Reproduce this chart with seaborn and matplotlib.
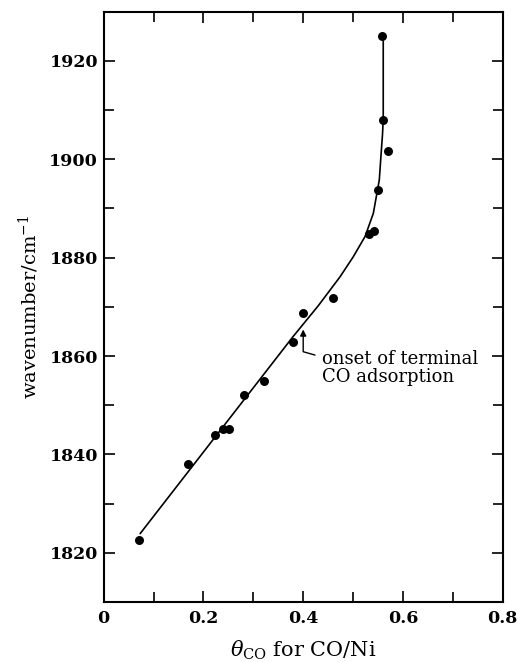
import matplotlib
matplotlib.use("Agg")
import matplotlib.pyplot as plt
import seaborn as sns
import pandas as pd
from matplotlib.ticker import MultipleLocator

# measured points
theta = [0.071, 0.170, 0.223, 0.240, 0.251, 0.281, 0.322, 0.380, 0.400, 0.459,
         0.531, 0.541, 0.549, 0.571, 0.561, 0.558]
wavenumber = [1822.7, 1838.0, 1843.9, 1845.1, 1845.1, 1852.1, 1854.9, 1862.9, 1868.8, 1871.8,
              1884.8, 1885.5, 1893.7, 1901.6, 1907.9, 1925.1]

# guide curve
curve_theta = [0.073, 0.38, 0.43, 0.4738, 0.5005, 0.524, 0.5406,
               0.5526, 0.5565, 0.5590, 0.5605, 0.5605]
curve_wn = [1823.9, 1864.0, 1870.2, 1876.1, 1880.2, 1884.3, 1889.0,
            1895.8, 1901.5, 1905.0, 1908.0, 1924.0]

x_ticks = [0, 0.2, 0.4, 0.6, 0.8]
x_ticklabels = ["0", "0.2", "0.4", "0.6", "0.8"]
y_ticks = [1820, 1840, 1860, 1880, 1900, 1920]

annotation = "onset of terminal\nCO adsorption"

sns.set_theme(style="ticks")
plt.rcParams['font.family'] = ['DejaVu Serif']
plt.rcParams['mathtext.fontset'] = 'dejavuserif'

fig = plt.figure(figsize=(5.17, 6.62), dpi=100)
ax = fig.add_axes([0.2006, 0.0906, 0.9723 - 0.2006, 0.9823 - 0.0906])

df_pts = pd.DataFrame({"theta": theta, "wn": wavenumber})
df_curve = pd.DataFrame({"theta": curve_theta, "wn": curve_wn})

sns.lineplot(data=df_curve, x="theta", y="wn", sort=False, estimator=None, errorbar=None,
             color="black", lw=1.2, ax=ax)
sns.scatterplot(data=df_pts, x="theta", y="wn", color="black", s=42, edgecolor="black",
                linewidth=0, ax=ax, zorder=3)

ax.set_xlim(0, 0.8)
ax.set_ylim(1810, 1930)
ax.set_xticks(x_ticks)
ax.set_xticklabels(x_ticklabels)
ax.xaxis.set_minor_locator(MultipleLocator(0.1))
ax.set_yticks(y_ticks)
ax.yaxis.set_minor_locator(MultipleLocator(10))

ax.tick_params(which="both", direction="in", top=True, right=True, width=1.2, color="black")
ax.tick_params(which="major", length=8)
ax.tick_params(which="minor", length=7)
ax.tick_params(axis="y", which="major", pad=4)
ax.tick_params(axis="x", which="major", pad=6)
for lbl in ax.get_xticklabels() + ax.get_yticklabels():
    lbl.set_fontweight("bold")
    lbl.set_fontsize(12.5)
    lbl.set_color("black")

for sp in ax.spines.values():
    sp.set_linewidth(1.5)
    sp.set_color("black")

ax.set_xlabel(r"$\theta_{\rm CO}$ for CO/Ni", fontsize=15, color="black", labelpad=8)
ax.set_ylabel(r"wavenumber/cm$^{-1}$", fontsize=14, color="black", labelpad=6)

ax.text(0.437, 1854.0, annotation, fontsize=13, color="black", ha="left", va="bottom",
        linespacing=0.95)
ax.annotate("", xy=(0.400, 1865.4), xytext=(0.4236, 1860.2),
            arrowprops=dict(arrowstyle="-|>", connectionstyle="angle,angleA=164,angleB=90,rad=0",
                            lw=1.0, color="black", shrinkA=0, shrinkB=0, mutation_scale=9))

fig.savefig("out.png", dpi=100)
